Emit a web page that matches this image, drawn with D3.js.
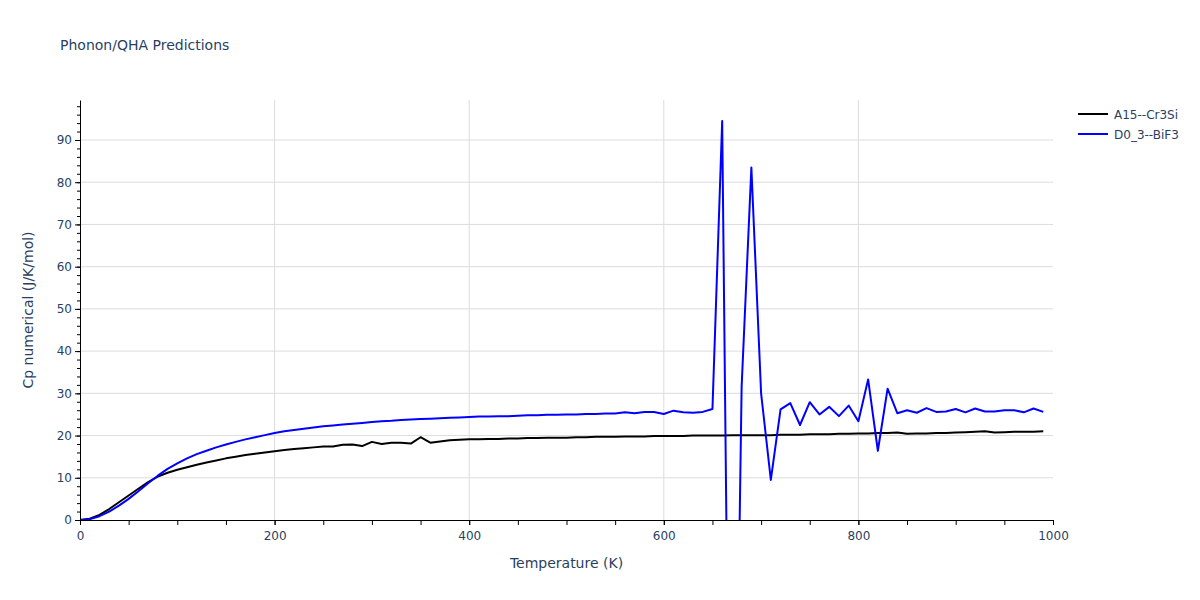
<!DOCTYPE html>
<html>
<head>
<meta charset="utf-8">
<script src="https://cdn.jsdelivr.net/npm/d3@7/dist/d3.min.js"></script>
<style>
html,body{margin:0;padding:0;background:#fff;}
svg{display:block;font-family:"DejaVu Sans", Verdana, sans-serif;}
</style>
</head>
<body>
<svg id="chart" width="1200" height="600"></svg>
<script>
const temperatures = d3.range(0, 1000, 10);

const cr3siCp = [
  0, 0.3, 1.2, 2.6, 4.2, 5.8, 7.4, 9.0, 10.3, 11.2,
  11.9, 12.5, 13.1, 13.6, 14.1, 14.6, 15.0, 15.4, 15.7, 16.0,
  16.3, 16.6, 16.8, 17.0, 17.2, 17.4, 17.4, 17.8, 17.9, 17.5,
  18.5, 18.0, 18.3, 18.3, 18.1, 19.6, 18.3, 18.6, 18.9, 19.0,
  19.1, 19.1, 19.2, 19.2, 19.3, 19.3, 19.4, 19.4, 19.5, 19.5,
  19.5, 19.6, 19.6, 19.7, 19.7, 19.7, 19.8, 19.8, 19.8, 19.9,
  19.9, 19.9, 19.9, 20.0, 20.0, 20.0, 20.0, 20.1, 20.1, 20.1,
  20.1, 20.1, 20.2, 20.2, 20.2, 20.3, 20.3, 20.3, 20.4, 20.4,
  20.5, 20.5, 20.6, 20.6, 20.7, 20.4, 20.5, 20.5, 20.6, 20.6,
  20.7, 20.8, 20.9, 21.0, 20.7, 20.8, 20.9, 20.9, 20.9, 21.0
];

const bif3Cp = [
  0, 0.2, 0.9, 2.0, 3.4, 5.0, 6.8, 8.7, 10.5, 12.1,
  13.4, 14.6, 15.6, 16.4, 17.2, 17.9, 18.5, 19.1, 19.6, 20.1,
  20.6, 21.0, 21.3, 21.6, 21.9, 22.2, 22.4, 22.6, 22.8, 23.0,
  23.2, 23.4, 23.5, 23.7, 23.8, 23.9, 24.0, 24.1, 24.2, 24.3,
  24.4, 24.5, 24.5, 24.6, 24.6, 24.7, 24.8, 24.8, 24.9, 24.9,
  25.0, 25.0, 25.1, 25.1, 25.2, 25.2, 25.5, 25.3, 25.6, 25.6,
  25.1, 25.9, 25.5, 25.4, 25.6, 26.3, 94.5, -125, 31.6, 83.5,
  30.0, 9.5, 26.2, 27.7, 22.5, 27.9, 25.0, 26.8, 24.6, 27.1,
  23.4, 33.3, 16.4, 31.1, 25.3, 26.0, 25.4, 26.5, 25.6, 25.7,
  26.3, 25.5, 26.4, 25.7, 25.7, 26.0, 26.0, 25.5, 26.4, 25.6
];

const seriesNames = ["A15--Cr3Si", "D0_3--BiF3"];
const seriesColors = ["#000000", "#0000ff"];
const xTickValues = [0, 200, 400, 600, 800, 1000];
const yTickValues = [0, 10, 20, 30, 40, 50, 60, 70, 80, 90];

(function () {
const svg = d3.select("#chart");
const mLeft = 80, mRight = 1053, mTop = 100, mBottom = 520;
const textColor = "#2a3f5f";

const x = d3.scaleLinear().domain([0, 1000]).range([mLeft, mRight]);
const y = d3.scaleLinear().domain([0, 99.47]).range([mBottom, mTop]);

// grid
svg.append("g").selectAll("line").data(yTickValues.filter(d => d > 0)).join("line")
  .attr("x1", mLeft).attr("x2", mRight)
  .attr("y1", d => y(d)).attr("y2", d => y(d))
  .attr("stroke", "#dcdcdc").attr("stroke-width", 1);
svg.append("g").selectAll("line").data(xTickValues.filter(d => d > 0 && d < 1000)).join("line")
  .attr("x1", d => x(d)).attr("x2", d => x(d))
  .attr("y1", mTop).attr("y2", mBottom)
  .attr("stroke", "#dcdcdc").attr("stroke-width", 1);

// clip
svg.append("clipPath").attr("id", "clip").append("rect")
  .attr("x", mLeft).attr("y", mTop).attr("width", mRight - mLeft).attr("height", mBottom - mTop);

const line = d3.line().x((d, i) => x(temperatures[i])).y(d => y(d));
const plot = svg.append("g").attr("clip-path", "url(#clip)");
[cr3siCp, bif3Cp].forEach((vals, k) => {
  plot.append("path").datum(vals)
    .attr("d", line)
    .attr("fill", "none")
    .attr("stroke", seriesColors[k])
    .attr("stroke-width", 2)
    .attr("stroke-linejoin", "round");
});

// x axis
const xMinor = svg.append("g").attr("transform", `translate(0,${mBottom})`)
  .call(d3.axisBottom(x).tickValues(d3.range(0, 1001, 50)).tickSize(5).tickFormat(""));
xMinor.select(".domain").remove();
xMinor.selectAll("line").attr("stroke", "#000");
const xAxis = svg.append("g").attr("transform", `translate(0,${mBottom})`)
  .call(d3.axisBottom(x).tickValues(xTickValues).tickFormat(d3.format("d"))
    .tickSize(5).tickSizeOuter(0).tickPadding(4));
xAxis.select(".domain").attr("stroke", "#000").attr("stroke-width", 1);
xAxis.selectAll("line").attr("stroke", "#000");
xAxis.selectAll("text").attr("fill", textColor).style("font-size", "12px")
  .style("font-family", '"DejaVu Sans", sans-serif').attr("dy", "0.9em");

// y axis
const yMinor = svg.append("g").attr("transform", `translate(${mLeft},0)`)
  .call(d3.axisLeft(y).tickValues(d3.range(0, 99, 2)).tickSize(3).tickFormat(""));
yMinor.select(".domain").remove();
yMinor.selectAll("line").attr("stroke", "#000");
const yAxis = svg.append("g").attr("transform", `translate(${mLeft},0)`)
  .call(d3.axisLeft(y).tickValues(yTickValues).tickSize(5).tickSizeOuter(0).tickPadding(3));
yAxis.select(".domain").attr("stroke", "#000").attr("stroke-width", 1);
yAxis.selectAll("line").attr("stroke", "#000");
yAxis.selectAll("text").attr("fill", textColor).style("font-size", "12px")
  .style("font-family", '"DejaVu Sans", sans-serif');

// titles
svg.append("text").attr("x", 60).attr("y", 50)
  .attr("fill", textColor).style("font-size", "14px")
  .text("Phonon/QHA Predictions");
svg.append("text").attr("x", (mLeft + mRight) / 2).attr("y", 568)
  .attr("text-anchor", "middle").attr("fill", textColor).style("font-size", "14px")
  .text("Temperature (K)");
svg.append("text")
  .attr("transform", `translate(33,${(mTop + mBottom) / 2}) rotate(-90)`)
  .attr("text-anchor", "middle").attr("fill", textColor).style("font-size", "14px")
  .text("Cp numerical (J/K/mol)");

// legend
const legend = svg.append("g");
seriesNames.forEach((name, i) => {
  const ly = 114 + i * 20;
  legend.append("line").attr("x1", 1078).attr("x2", 1108).attr("y1", ly).attr("y2", ly)
    .attr("stroke", seriesColors[i]).attr("stroke-width", 2);
  legend.append("text").attr("x", 1114).attr("y", ly + 4.5)
    .attr("fill", textColor).style("font-size", "12px").text(name);
});
})();
</script>
</body>
</html>
